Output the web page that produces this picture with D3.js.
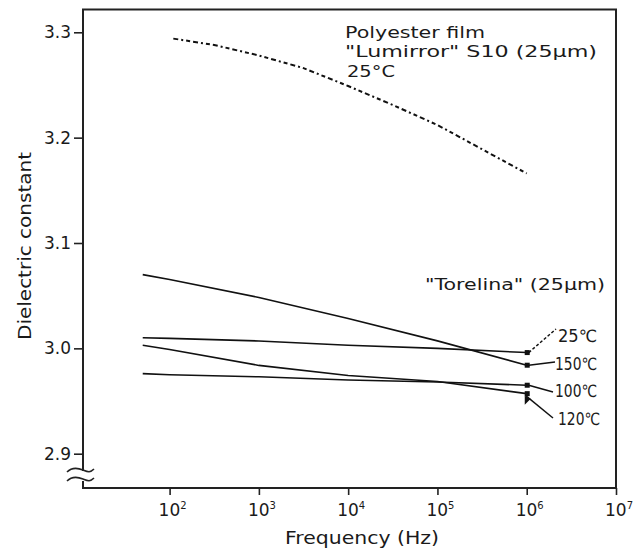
<!DOCTYPE html>
<html>
<head>
<meta charset="utf-8">
<script src="https://cdn.jsdelivr.net/npm/d3@7"></script>
<style>
  body { margin: 0; background: #fff; }
  text { font-family: 'DejaVu Sans', sans-serif; fill: #1a1a1a; }
</style>
</head>
<body>
<svg id="chart" width="634" height="552"></svg>
<script>
// values
const freqTicks = [1e2, 1e3, 1e4, 1e5, 1e6, 1e7];
const freqExps = ['2', '3', '4', '5', '6', '7'];
const dcTicks = [2.9, 3.0, 3.1, 3.2, 3.3];

const polyFreq = [110, 316, 1e3, 3162, 1e4, 31623, 1e5, 316228, 1e6];
const polyValues = [3.294, 3.288, 3.278, 3.266, 3.249, 3.231, 3.212, 3.189, 3.166];

const torelinaFreq = [50, 1e2, 1e3, 1e4, 1e5, 1e6];
const torelina25 = [3.010, 3.0095, 3.007, 3.003, 3.000, 2.996];
const torelina150 = [3.070, 3.0654, 3.0483, 3.0283, 3.0071, 2.984];
const torelina100 = [2.976, 2.975, 2.973, 2.970, 2.968, 2.965];
const torelina120 = [3.003, 2.9989, 2.9838, 2.9743, 2.9686, 2.957];
const torelinaLabels = ['25℃', '150℃', '100℃', '120℃'];

const svg = d3.select('#chart');

const x = d3.scaleLog()
  .domain([Math.pow(10, 1.03), 1e7])
  .range([83, 616]);

const y = d3.scaleLinear()
  .domain([2.9, 3.3])
  .range([453.7, 32.3]);

const frameTop = 9.5, frameBottom = 488;

// frame
const frame = svg.append('g')
  .attr('stroke', '#222')
  .attr('stroke-width', 2)
  .attr('fill', 'none');
frame.append('path')
  .attr('d', `M83,471V${frameTop}H616V${frameBottom}H83V481`);

// axis break
const brk = svg.append('g')
  .attr('stroke', '#222')
  .attr('stroke-width', 1.6)
  .attr('fill', 'none');
[470, 479].forEach((yy) => {
  brk.append('path')
    .attr('d', `M67,${yy + 2} C72,${yy - 3} 78,${yy - 2} 83,${yy} S90,${yy + 3} 94,${yy - 1}`);
});

// y axis ticks
const yAxis = svg.append('g')
  .attr('transform', 'translate(83,0)')
  .call(d3.axisLeft(y)
    .tickValues(dcTicks)
    .tickSize(9)
    .tickPadding(3)
    .tickFormat(d3.format('.1f')));
yAxis.select('.domain').remove();
yAxis.selectAll('line').attr('stroke', '#222').attr('stroke-width', 1.6);
yAxis.selectAll('text')
  .style('font-size', '17px')
  .style('font-family', 'DejaVu Sans, sans-serif')
  .attr('fill', '#1a1a1a');

// x axis ticks
const xAxis = svg.append('g')
  .attr('transform', `translate(0,${frameBottom})`)
  .call(d3.axisBottom(x)
    .tickValues(freqTicks)
    .tickSize(7)
    .tickFormat(''));
xAxis.select('.domain').remove();
xAxis.selectAll('line').attr('stroke', '#222').attr('stroke-width', 1.6);

const xLabels = svg.append('g')
  .selectAll('text')
  .data(freqTicks)
  .join('text')
    .attr('x', (d) => x(d) - 11)
    .attr('y', 516)
    .style('font-size', '17px');
xLabels.append('tspan').text('10');
xLabels.append('tspan')
  .attr('dy', -7)
  .style('font-size', '10px')
  .text((d, i) => freqExps[i]);

// axis titles
svg.append('text')
  .attr('x', 362)
  .attr('y', 544)
  .attr('text-anchor', 'middle')
  .attr('textLength', 154)
  .attr('lengthAdjust', 'spacingAndGlyphs')
  .style('font-size', '17px')
  .text('Frequency (Hz)');

svg.append('text')
  .attr('transform', 'translate(31,246) rotate(-90)')
  .attr('text-anchor', 'middle')
  .attr('textLength', 188)
  .attr('lengthAdjust', 'spacingAndGlyphs')
  .style('font-size', '17px')
  .text('Dielectric constant');

const line = d3.line()
  .x((d) => x(d[0]))
  .y((d) => y(d[1]));

// polyester film (dashed)
svg.append('path')
  .datum(d3.zip(polyFreq, polyValues))
  .attr('d', line)
  .attr('fill', 'none')
  .attr('stroke', '#111')
  .attr('stroke-width', 2)
  .attr('stroke-dasharray', '5,3,2,3,4,3');

// torelina curves
const torelinaSeries = [torelina25, torelina150, torelina100, torelina120];
svg.append('g')
  .selectAll('path')
  .data(torelinaSeries)
  .join('path')
    .attr('d', (vals) => line(d3.zip(torelinaFreq, vals)))
    .attr('fill', 'none')
    .attr('stroke', '#111')
    .attr('stroke-width', 1.6);

// end markers
svg.append('g')
  .selectAll('rect')
  .data(torelinaSeries)
  .join('rect')
    .attr('x', (vals) => x(1e6) - 2)
    .attr('y', (vals) => y(vals[vals.length - 1]) - 2.5)
    .attr('width', 5)
    .attr('height', 5)
    .attr('fill', '#111');

// leader lines and labels
const labelPos = [[558, 342], [555, 370], [555, 397], [558, 425]];
const leaderEnd = [[556, 329], [555, 362], [553, 392], [553, 418]];
const leaders = svg.append('g')
  .attr('stroke', '#111')
  .attr('stroke-width', 1.5)
  .attr('fill', 'none');
torelinaSeries.forEach((vals, i) => {
  const x0 = x(1e6) + (i === 3 ? -1 : 2);
  const y0 = y(vals[vals.length - 1]) + (i === 3 ? 2 : 0);
  leaders.append('line')
    .attr('x1', x0)
    .attr('y1', y0)
    .attr('x2', leaderEnd[i][0])
    .attr('y2', leaderEnd[i][1])
    .attr('stroke-dasharray', i === 0 ? '3,2' : null);
});
// arrow head for 120
const tip = [x(1e6) - 2, y(torelina120[5]) + 2];
svg.append('path')
  .attr('d', `M${tip[0]},${tip[1]} l0,9 l6,-6 z`)
  .attr('fill', '#111');

svg.append('g')
  .selectAll('text')
  .data(torelinaLabels)
  .join('text')
    .attr('x', (d, i) => labelPos[i][0])
    .attr('y', (d, i) => labelPos[i][1])
    .attr('textLength', (d, i) => (i === 0 ? 39 : 42))
    .attr('lengthAdjust', 'spacingAndGlyphs')
    .style('font-size', '17px')
    .text((d) => d);

// annotations
const notes = [
  ['Polyester film', 345, 38, 140],
  ['"Lumirror" S10 (25μm)', 345, 57, 252],
  ['25°C', 347, 77, 48],
  ['"Torelina" (25μm)', 425, 290, 180]
];
svg.append('g')
  .selectAll('text')
  .data(notes)
  .join('text')
    .attr('x', (d) => d[1])
    .attr('y', (d) => d[2])
    .attr('textLength', (d) => d[3])
    .attr('lengthAdjust', 'spacingAndGlyphs')
    .style('font-size', '16px')
    .text((d) => d[0]);
</script>
</body>
</html>
